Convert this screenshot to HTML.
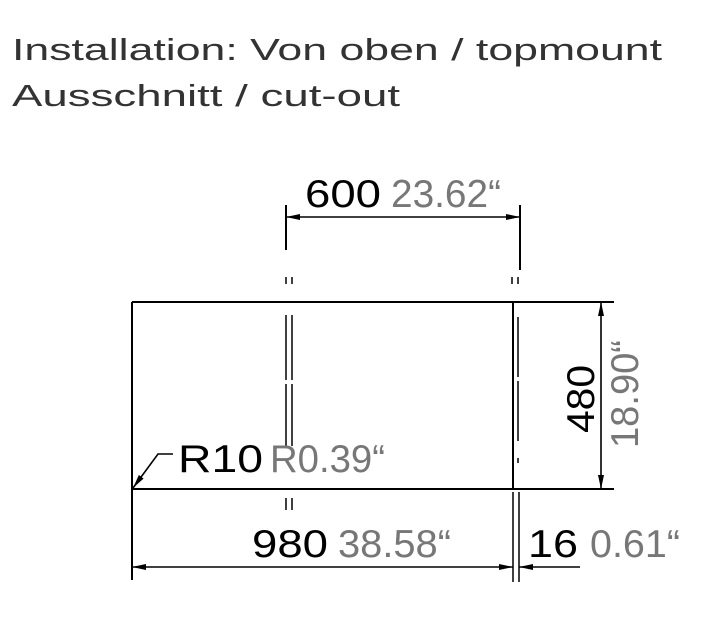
<!DOCTYPE html>
<html><head><meta charset="utf-8"><style>
html,body{margin:0;padding:0;background:#fff;width:710px;height:640px;overflow:hidden}
svg{display:block}
text{font-family:"Liberation Sans",sans-serif}
</style></head><body>
<svg width="710" height="640" viewBox="0 0 710 640" xmlns="http://www.w3.org/2000/svg">
<defs>
<marker id="a" viewBox="0 0 14 6" refX="14" refY="3" markerWidth="14" markerHeight="6" orient="auto-start-reverse" markerUnits="userSpaceOnUse"><path d="M0,0L14,3L0,6z" fill="#000"/></marker>
</defs>
<text x="12" y="60" font-size="31" fill="#333" textLength="650" lengthAdjust="spacingAndGlyphs">Installation: Von oben / topmount</text>
<text x="12" y="106" font-size="31" fill="#333" textLength="388" lengthAdjust="spacingAndGlyphs">Ausschnitt / cut-out</text>
<g stroke="#000" stroke-width="2" fill="none">
<path d="M132,302H614M132,489H614M132,302V580"/>
<line x1="513" y1="302" x2="513" y2="489"/>
<line x1="286" y1="205" x2="286" y2="250"/>
<line x1="520" y1="205" x2="520" y2="270"/>
<line x1="286" y1="217" x2="520" y2="217" marker-start="url(#a)" marker-end="url(#a)" stroke-width="1.6"/>
<path d="M286,277v7M292,277v7M512,277v7M518,277v7" stroke-width="1.5"/>
<path d="M286,315v65M292,315v65M286,384v62M292,384v62M286,498v12M292,498v12" stroke-width="1.5"/>
<path d="M518,317v60M518,381v60M518,458v5M513,492v90M519,492v90" stroke-width="1.5"/>
<line x1="601" y1="302" x2="601" y2="489" marker-start="url(#a)" marker-end="url(#a)" stroke-width="1.6"/>
<line x1="132" y1="567" x2="513" y2="567" marker-start="url(#a)" marker-end="url(#a)" stroke-width="1.6"/>
<line x1="580" y1="567" x2="519" y2="567" marker-end="url(#a)" stroke-width="1.6"/>
<path d="M173,454H158L133,488" stroke-width="1.6" marker-end="url(#a)"/>
</g>
<text x="305" y="207" font-size="39" fill="#000" textLength="76" lengthAdjust="spacingAndGlyphs">600</text>
<text x="391" y="207" font-size="39" fill="#777" textLength="110" lengthAdjust="spacingAndGlyphs">23.62“</text>
<text x="178" y="472" font-size="39" fill="#000" textLength="85" lengthAdjust="spacingAndGlyphs">R10</text>
<text x="270" y="472" font-size="39" fill="#777" textLength="115" lengthAdjust="spacingAndGlyphs">R0.39“</text>
<text x="252" y="557" font-size="39" fill="#000" textLength="76" lengthAdjust="spacingAndGlyphs">980</text>
<text x="338" y="557" font-size="39" fill="#777" textLength="113" lengthAdjust="spacingAndGlyphs">38.58“</text>
<text x="528" y="557" font-size="39" fill="#000" textLength="50" lengthAdjust="spacingAndGlyphs">16</text>
<text x="590" y="557" font-size="39" fill="#777" textLength="90" lengthAdjust="spacingAndGlyphs">0.61“</text>
<text transform="translate(594,433) rotate(-90)" font-size="39" fill="#000" textLength="68" lengthAdjust="spacingAndGlyphs">480</text>
<text transform="translate(638,448) rotate(-90)" font-size="39" fill="#777" textLength="108" lengthAdjust="spacingAndGlyphs">18.90“</text>
</svg>
</body></html>
